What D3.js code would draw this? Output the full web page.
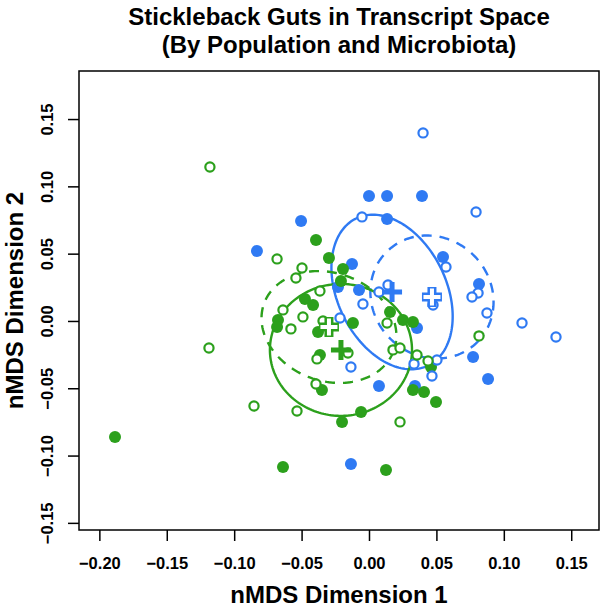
<!DOCTYPE html>
<html>
<head>
<meta charset="utf-8">
<script src="https://cdn.jsdelivr.net/npm/d3@7"></script>
<style>
  body { margin: 0; background: #fff; }
  svg text { font-family: "Liberation Sans", Arial, Helvetica, sans-serif; font-weight: bold; }
</style>
</head>
<body>
<div id="chart"></div>
<script>
// nMDS scores, by population (blue / green) and microbiota (filled / open)
let blueFilledX = [-0.0831, 0.0000, 0.0134, 0.0393, -0.0504, 0.0134, 0.0549, -0.0126, -0.0230, -0.0074, 0.0356, 0.0074, 0.0341, 0.0816, 0.0772, 0.0883, -0.0134];
let blueFilledY = [0.0520, 0.0929, 0.0929, 0.0929, 0.0743, 0.0758, 0.0475, 0.0423, 0.0253, 0.0230, -0.0052, -0.0483, -0.0483, 0.0275, -0.0267, -0.0431, -0.1062];

let blueOpenX = [0.0401, -0.0052, 0.0571, 0.0074, 0.0141, 0.0475, -0.0045, -0.0215, -0.0134, 0.0334, 0.0504, 0.0467, 0.0794, 0.0809, 0.0764, 0.0875, 0.1135, 0.1387];
let blueOpenY = [0.1397, 0.0773, 0.0401, 0.0215, 0.0267, 0.0119, 0.0126, 0.0022, -0.0342, -0.0319, -0.0290, -0.0409, 0.0810, 0.0208, 0.0178, 0.0059, -0.0015, -0.0119];

let greenFilledX = [-0.1884, -0.0393, -0.0297, -0.0193, -0.0208, -0.0475, -0.0415, -0.0675, -0.0682, -0.0119, -0.0378, 0.0156, 0.0252, 0.0326, -0.0364, -0.0349, 0.0460, 0.0326, 0.0408, 0.0497, -0.0059, -0.0200, -0.0638, 0.0126];
let greenFilledY = [-0.0862, 0.0602, 0.0468, 0.0386, 0.0297, 0.0163, 0.0119, 0.0007, -0.0045, -0.0015, -0.0082, 0.0067, 0.0007, -0.0007, -0.0253, -0.0513, -0.0342, -0.0513, -0.0527, -0.0602, -0.0676, -0.0750, -0.1085, -0.1107];

let greenOpenX = [-0.1180, -0.0682, -0.0497, -0.0542, -0.0364, -0.0638, -0.0490, -0.0579, -0.0341, 0.0134, -0.0156, -0.0386, 0.0178, 0.0230, 0.0356, 0.0438, -0.0393, -0.0534, 0.0230, -0.1187, -0.0853, 0.0816];
let greenOpenY = [0.1144, 0.0461, 0.0394, 0.0319, 0.0223, 0.0082, 0.0030, -0.0059, 0.0000, -0.0015, -0.0238, -0.0282, -0.0215, -0.0201, -0.0253, -0.0297, -0.0468, -0.0669, -0.0750, -0.0201, -0.0632, -0.0111];

// group centroids and ellipses: blue filled, blue open, green filled, green open
let groupColors = ["#2f7af3", "#2f7af3", "#2ca01c", "#2ca01c"];
let groupOpen = [false, true, false, true];
let centroidX = [0.0171, 0.0467, -0.0208, -0.0297];
let centroidY = [0.0215, 0.0178, -0.0215, -0.0045];
let ellipseA = [0.0608, 0.0475, 0.0527, 0.0512];
let ellipseB = [0.0403, 0.0438, 0.0490, 0.0401];
let ellipseAngle = [-64, -45, 0, -20];

let xTicks = [-0.20, -0.15, -0.10, -0.05, 0.00, 0.05, 0.10, 0.15];
let yTicks = [-0.15, -0.10, -0.05, 0.00, 0.05, 0.10, 0.15];

let width = 604, height = 608;
let plotLeft = 79, plotRight = 599, plotTop = 71, plotBottom = 530;

let svg = d3.select("#chart").append("svg")
    .attr("width", width)
    .attr("height", height);

let x = d3.scaleLinear().domain([-0.2151, 0.1706]).range([plotLeft, plotRight]);
let y = d3.scaleLinear().domain([-0.1553, 0.1857]).range([plotBottom, plotTop]);

//title
svg.append("text").attr("x", (plotLeft + plotRight) / 2).attr("y", 25)
    .attr("text-anchor", "middle").style("font-size", "24px")
    .text("Stickleback Guts in Transcript Space");
svg.append("text").attr("x", (plotLeft + plotRight) / 2).attr("y", 53)
    .attr("text-anchor", "middle").style("font-size", "24px")
    .text("(By Population and Microbiota)");

//axes
let xAxis = svg.append("g")
    .attr("transform", "translate(0," + plotBottom + ")")
    .call(d3.axisBottom(x).tickValues(xTicks).tickFormat(d3.format(".2f")).tickSize(11).tickPadding(16));
let yAxis = svg.append("g")
    .attr("transform", "translate(" + plotLeft + ",0)")
    .call(d3.axisLeft(y).tickValues(yTicks).tickFormat(d3.format(".2f")).tickSize(11));
[xAxis, yAxis].forEach((a) => {
    a.select(".domain").remove();
    a.selectAll("line").attr("stroke", "#000").attr("stroke-width", 1.5);
    a.selectAll("text").attr("fill", "#000").style("font-size", "16.5px").style("font-family", "Liberation Sans, Arial, sans-serif").style("font-weight", "bold");
});
yAxis.selectAll("text")
    .attr("x", 0).attr("y", 0).attr("dy", 0)
    .attr("text-anchor", "middle")
    .attr("transform", "translate(-26,0) rotate(-90)");

svg.append("text").attr("x", (plotLeft + plotRight) / 2).attr("y", 603)
    .attr("text-anchor", "middle").style("font-size", "24px")
    .text("nMDS Dimension 1");
svg.append("text")
    .attr("transform", "translate(23," + (plotTop + plotBottom) / 2 + ") rotate(-90)")
    .attr("text-anchor", "middle").style("font-size", "24px")
    .text("nMDS Dimension 2");

//ellipses, built in data units then passed through the scales
let line = d3.line().x((d) => x(d[0])).y((d) => y(d[1]));
centroidX.forEach((cx, i) => {
    let phi = ellipseAngle[i] * Math.PI / 180;
    let pts = d3.range(0, 181).map((k) => {
        let t = k / 180 * 2 * Math.PI;
        let u = ellipseA[i] * Math.cos(t), v = ellipseB[i] * Math.sin(t);
        return [cx + u * Math.cos(phi) - v * Math.sin(phi), centroidY[i] + u * Math.sin(phi) + v * Math.cos(phi)];
    });
    svg.append("path")
        .attr("d", line(pts) + "Z")
        .attr("fill", "none")
        .attr("stroke", groupColors[i])
        .attr("stroke-width", 2.4)
        .attr("stroke-dasharray", groupOpen[i] ? "10,8" : null);
});

//points
function drawPoints(xs, ys, color, open) {
    svg.append("g").selectAll("circle")
        .data(xs).enter()
        .append("circle")
        .attr("cx", (d) => x(d))
        .attr("cy", (d, i) => y(ys[i]))
        .attr("r", open ? 4.6 : 6)
        .attr("fill", open ? "#fff" : color)
        .attr("stroke", open ? color : "none")
        .attr("stroke-width", open ? 2.2 : 0);
}
drawPoints(blueFilledX, blueFilledY, groupColors[0], false);
drawPoints(greenFilledX, greenFilledY, groupColors[2], false);
drawPoints(blueOpenX, blueOpenY, groupColors[1], true);
drawPoints(greenOpenX, greenOpenY, groupColors[3], true);

//centroid crosses
centroidX.forEach((cx, i) => {
    let g = svg.append("g").attr("transform", "translate(" + x(cx) + "," + y(centroidY[i]) + ")");
    let h = 10;
    g.append("path").attr("d", `M${-h},0H${h}M0,${-h}V${h}`)
        .attr("stroke", groupColors[i]).attr("stroke-width", groupOpen[i] ? 9 : 5).attr("fill", "none");
    if (groupOpen[i]) {
        g.append("path").attr("d", `M${-h + 1.5},0H${h - 1.5}M0,${-h + 1.5}V${h - 1.5}`)
            .attr("stroke", "#fff").attr("stroke-width", 4).attr("fill", "none");
    }
});

//box
svg.append("rect")
    .attr("x", plotLeft).attr("y", plotTop)
    .attr("width", plotRight - plotLeft).attr("height", plotBottom - plotTop)
    .attr("fill", "none").attr("stroke", "#000").attr("stroke-width", 1.5);
</script>
</body>
</html>
